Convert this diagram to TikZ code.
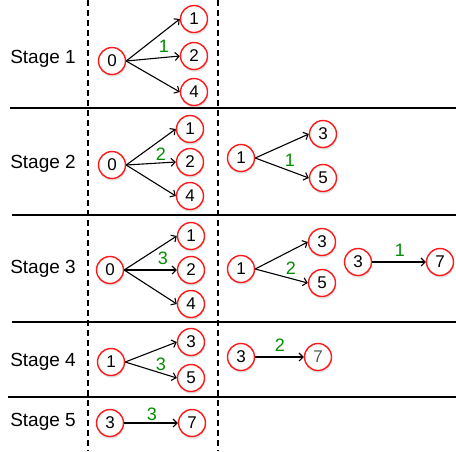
\documentclass[tikz,border=0pt]{standalone}
\usepackage{fontspec}
\setmainfont{Liberation Sans}
\usetikzlibrary{shadows,arrows.meta}

\begin{document}
\begin{tikzpicture}[x=1pt, y=-1pt,
    vert/.style={draw=red!90!white, line width=1.4pt, circle, fill=white, minimum size=27pt, inner sep=0pt, font=\fontsize{17}{19}\selectfont,
                 drop shadow={shadow xshift=0.6pt, shadow yshift=-2.2pt, opacity=0.25}},
    w/.style={text=green!55!black, font=\fontsize{18}{20}\selectfont},
    stage/.style={font=\fontsize{19}{21}\selectfont},
    edge/.style={-{Straight Barb[length=4pt,width=8pt]}, line width=1.1pt}]
        \useasboundingbox (0,0) rectangle (456,451);

        % Frame
        \draw[line width=1.4pt, dash pattern=on 6pt off 4pt] (88,0) -- (88,451);
        \draw[line width=1.4pt, dash pattern=on 6pt off 4pt] (218,0) -- (218,451);
        \draw[line width=1.8pt] (10,108) -- (456,108);
        \draw[line width=1.8pt] (12,215) -- (456,215);
        \draw[line width=1.8pt] (12,322) -- (456,322);
        \draw[line width=1.8pt] (8,397) -- (456,397);

        % Stage 1
        \node[stage] (s1) at (43,59) {Stage 1};
        \node[vert] (a0) at (112,61) {0};
        \node[vert] (a1) at (194,19) {1};
        \node[vert] (a2) at (194,56) {2};
        \node[vert] (a4) at (194,92) {4};
        \draw[edge] (a0.east) -- (a1.west);
        \draw[edge] (a0.east) -- (a2.west);
        \draw[edge] (a0.east) -- (a4.west);
        \node[w] (wa) at (164,46) {1};

        % Stage 2
        \node[stage] (s2) at (43,164) {Stage 2};
        \node[vert] (b0) at (112,165) {0};
        \node[vert] (b1) at (190,129) {1};
        \node[vert] (b2) at (190,162) {2};
        \node[vert] (b4) at (190,196) {4};
        \draw[edge] (b0.east) -- (b1.west);
        \draw[edge] (b0.east) -- (b2.west);
        \draw[edge] (b0.east) -- (b4.west);
        \node[w] (wb) at (161,154) {2};
        \node[vert] (c1) at (241,158) {1};
        \node[vert] (c3) at (323,134) {3};
        \node[vert] (c5) at (323,178) {5};
        \draw[edge] (c1.east) -- (c3.west);
        \draw[edge] (c1.east) -- (c5.west);
        \node[w] (wc) at (290,160) {1};

        % Stage 3
        \node[stage] (s3) at (43,269) {Stage 3};
        \node[vert] (d0) at (110,270) {0};
        \node[vert] (d1) at (191,236) {1};
        \node[vert] (d2) at (191,270) {2};
        \node[vert] (d4) at (191,304) {4};
        \draw[edge] (d0.east) -- (d1.west);
        \draw[edge] (d0.east) -- (d2.west);
        \draw[edge] (d0.east) -- (d4.west);
        \node[w] (wd) at (163,258) {3};
        \node[vert] (e1) at (241,269) {1};
        \node[vert] (e3) at (322,242) {3};
        \node[vert] (e5) at (322,283) {5};
        \draw[edge] (e1.east) -- (e3.west);
        \draw[edge] (e1.east) -- (e5.west);
        \node[w] (we) at (291,268) {2};
        \node[vert] (f3) at (358,262) {3};
        \node[vert] (f7) at (440,262) {7};
        \draw[edge] (f3) -- (f7);
        \node[w] (wf) at (400,250) {1};

        % Stage 4
        \node[stage] (s4) at (43,362) {Stage 4};
        \node[vert] (g1) at (111,362) {1};
        \node[vert] (g3) at (191,342) {3};
        \node[vert] (g5) at (191,378) {5};
        \draw[edge] (g1.east) -- (g3.west);
        \draw[edge] (g1.east) -- (g5.west);
        \node[w] (wg) at (161,364) {3};
        \node[vert] (h3) at (241,357) {3};
        \node[vert, text=black!65] (h7) at (318,357) {7};
        \draw[edge] (h3) -- (h7);
        \node[w] (wh) at (280,345) {2};

        % Stage 5
        \node[stage] (s5) at (43,422) {Stage 5};
        \node[vert] (k3) at (110,423) {3};
        \node[vert] (k7) at (192,423) {7};
        \draw[edge] (k3) -- (k7);
        \node[w] (wk) at (152,414) {3};
\end{tikzpicture}
\end{document}
